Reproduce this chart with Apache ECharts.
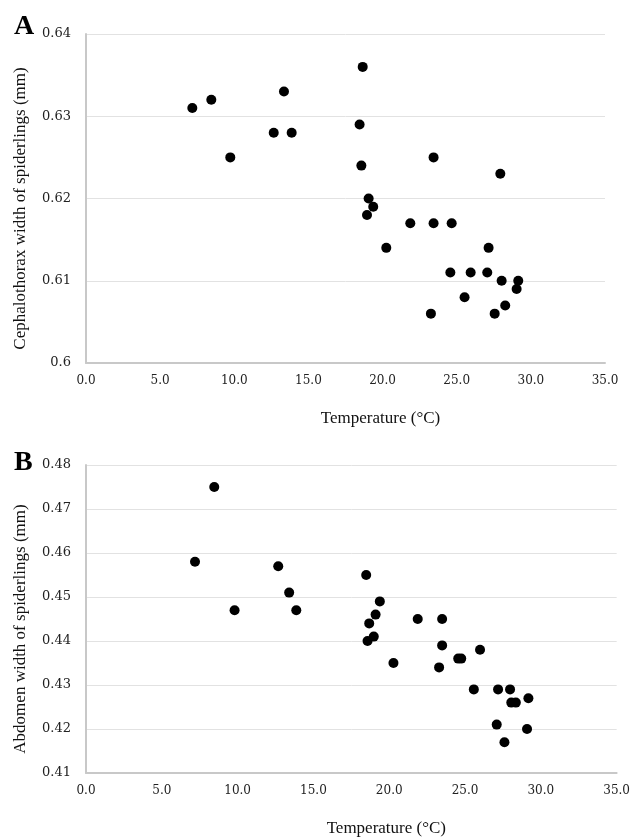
<!DOCTYPE html>
<html>
<head>
<meta charset="utf-8">
<script src="https://cdn.jsdelivr.net/npm/echarts@6/dist/echarts.min.js"></script>
<style>
  html, body { margin: 0; padding: 0; background: #fff; }
  #chart { width: 633px; height: 838px; }
</style>
</head>
<body>
<div id="chart"></div>
<script>
// panel A: cephalothorax width vs temperature
const tempA = [7.17, 8.45, 9.73, 13.35, 12.66, 13.87, 18.66, 18.45, 18.57, 23.44, 27.94, 19.06,
  19.37, 18.95, 21.87, 23.44, 24.66, 20.25, 27.15, 24.57, 25.94, 27.06, 28.03, 29.15, 29.04,
  25.53, 28.27, 23.26, 27.56];
const cephA = [0.631, 0.632, 0.625, 0.633, 0.628, 0.628, 0.636, 0.629, 0.624, 0.625, 0.623, 0.620,
  0.619, 0.618, 0.617, 0.617, 0.617, 0.614, 0.614, 0.611, 0.611, 0.611, 0.610, 0.610, 0.609,
  0.608, 0.607, 0.606, 0.606];

// panel B: abdomen width vs temperature
const tempB = [8.46, 7.19, 9.80, 12.68, 13.40, 13.87, 18.48, 19.38, 19.10, 18.68, 21.88, 23.49,
  18.98, 18.57, 23.49, 25.99, 20.28, 24.55, 24.75, 23.29, 25.58, 27.18, 27.97, 29.18, 28.05,
  28.35, 27.09, 29.09, 27.60];
const abdB = [0.475, 0.458, 0.447, 0.457, 0.451, 0.447, 0.455, 0.449, 0.446, 0.444, 0.445, 0.445,
  0.441, 0.440, 0.439, 0.438, 0.435, 0.436, 0.436, 0.434, 0.429, 0.429, 0.429, 0.427, 0.426,
  0.426, 0.421, 0.420, 0.417];

const serif = "DejaVu Serif";
const nameFont = "Liberation Serif";

function pairs(xs, ys) {
  return xs.map((x, i) => [x, ys[i]]);
}

function xAxisCfg(gridIndex) {
  return {
    type: "value",
    gridIndex: gridIndex,
    min: 0,
    max: 35,
    interval: 5,
    name: "Temperature (°C)",
    nameLocation: "middle",
    nameGap: 47,
    nameTextStyle: { fontFamily: nameFont, fontSize: 17, color: "#111", padding: [0, 0, 0, 70] },
    axisLine: { show: true, lineStyle: { color: "#c8c8c8", width: 2 } },
    axisTick: { show: false },
    splitLine: { show: false },
    axisLabel: {
      fontFamily: serif, fontSize: 12, color: "#222", margin: 12,
      formatter: (v) => v.toFixed(1),
    },
  };
}

function yAxisCfg(gridIndex, min, max, name) {
  return {
    type: "value",
    gridIndex: gridIndex,
    min: min,
    max: max,
    interval: 0.01,
    name: name,
    nameLocation: "middle",
    nameGap: 57,
    nameTextStyle: { fontFamily: nameFont, fontSize: 17, color: "#111", padding: [0, 20, 0, 0] },
    axisLine: { show: true, lineStyle: { color: "#c8c8c8", width: 2 } },
    axisTick: { show: false },
    splitLine: { show: true, lineStyle: { color: "#e2e2e2", width: 1 } },
    axisLabel: { fontFamily: serif, fontSize: 13, color: "#222", margin: 15 },
  };
}

const chart = echarts.init(document.getElementById("chart"), null, { renderer: "canvas" });

const option = {
  backgroundColor: "#fff",
  animation: false,
  title: [
    { text: "A", left: 9, top: 8, textStyle: { fontFamily: nameFont, fontSize: 28, fontWeight: "bold", color: "#000" } },
    { text: "B", left: 9, top: 444, textStyle: { fontFamily: nameFont, fontSize: 28, fontWeight: "bold", color: "#000" } },
  ],
  grid: [
    { left: 86, top: 34, width: 519, height: 329 },
    { left: 86, top: 465, width: 531, height: 313 },
  ],
  xAxis: [xAxisCfg(0), xAxisCfg(1)],
  yAxis: [
    yAxisCfg(0, 0.6, 0.64, "Cephalothorax width of spiderlings (mm)"),
    yAxisCfg(1, 0.41, 0.48, "Abdomen width of spiderlings (mm)"),
  ],
  series: [
    {
      type: "scatter",
      xAxisIndex: 0,
      yAxisIndex: 0,
      symbolSize: 10,
      itemStyle: { color: "#000", opacity: 1 },
      data: pairs(tempA, cephA),
    },
    {
      type: "scatter",
      xAxisIndex: 1,
      yAxisIndex: 1,
      symbolSize: 10,
      itemStyle: { color: "#000", opacity: 1 },
      data: pairs(tempB, abdB),
    },
  ],
};

chart.setOption(option);
</script>
</body>
</html>
